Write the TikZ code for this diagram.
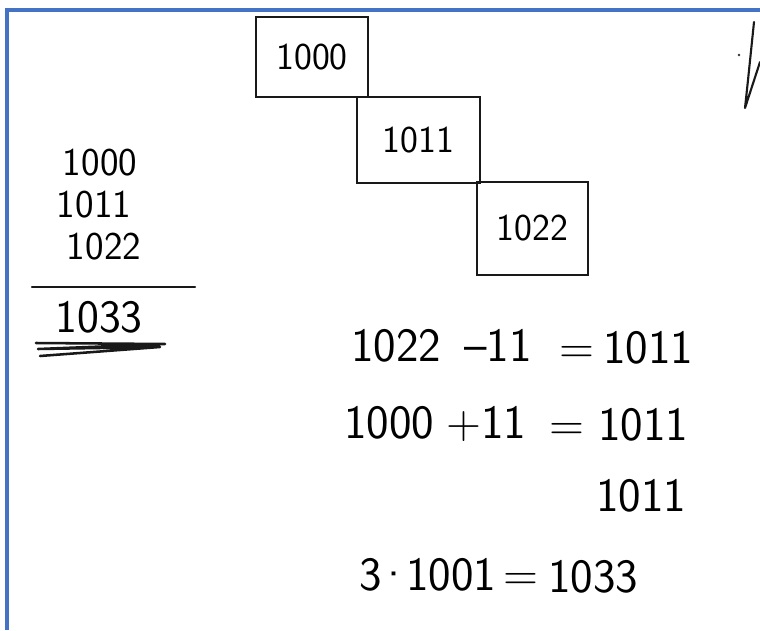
\documentclass[tikz,border=0pt]{standalone}
\usepackage{fontspec}
\begin{document}
\begin{tikzpicture}[x=0.025cm,y=-0.025cm,
  ink/.style={line width=1.5pt,black!90,line cap=round,line join=round},
  boxnode/.style={draw=black!90,line width=1.5pt,inner sep=0pt,font=\sffamily\fontsize{27}{32}\selectfont},
  coltext/.style={font=\sffamily\fontsize{28}{32}\selectfont,inner sep=0pt},
  eqtext/.style={font=\sffamily\fontsize{34}{40}\selectfont,inner sep=0pt,text height=24pt,text depth=0pt}]
\useasboundingbox (0,0) rectangle (760,630);
% frame
\draw[color={rgb,255:red,68;green,114;blue,196},line width=2.2pt] (760,10) -- (7,10) -- (7,630);
% boxes
\node[boxnode,minimum width=2.78cm,minimum height=1.98cm] (b1) at (312,57) {1000};
\node[boxnode,minimum width=3.08cm,minimum height=2.15cm] (b2) at (418.5,140) {1011};
\node[boxnode,minimum width=2.78cm,minimum height=2.33cm] (b3) at (532.5,228.5) {1022};
% left column
\node[coltext] (c1) at (100,163) {1000};
\node[coltext] (c2) at (94,205) {1011};
\node[coltext] (c3) at (104,247) {1022};
\coordinate (la) at (32,287);
\coordinate (lb) at (195,287);
\draw[ink] (la) -- (lb);
\node[coltext,font=\sffamily\fontsize{33}{38}\selectfont] (c4) at (99,317) {1033};
\coordinate (u1) at (36,343);
\coordinate (u2) at (165,344);
\coordinate (u3) at (38,349);
\coordinate (u4) at (160,347);
\coordinate (u5) at (40,356);
\draw[ink,line width=1.8pt] (u1) -- (u2) -- (u3) -- (u4) -- (u5);
% equations
\node[eqtext] (e11) at (396,345) {1022};
\node[eqtext] (e12) at (498,345) {–11};
\node[eqtext] (e13) at (577,347) {=};
\node[eqtext] (e14) at (648,347) {1011};
\node[eqtext] (e21) at (389,422) {1000};
\node[eqtext] (e22) at (486,422) {+11};
\node[eqtext] (e23) at (567,424) {=};
\node[eqtext] (e24) at (643,424) {1011};
\node[eqtext] (e34) at (641,495) {1011};
\node[eqtext] (e41) at (428,574) {3\kern-4pt·\kern-4pt1001};
\node[eqtext] (e42) at (521,574) {=};
\node[eqtext] (e43) at (593,576) {1033};
% partial mark at right edge
\coordinate (m1) at (754,22);
\coordinate (m2) at (748,80);
\coordinate (m3) at (745,108);
\coordinate (m4) at (760,62);
\draw[ink] (m1) -- (m2) -- (m3) -- (m4);
\coordinate (m5) at (739,55);
\fill[black!80] (m5) circle (1.3);
\end{tikzpicture}
\end{document}
